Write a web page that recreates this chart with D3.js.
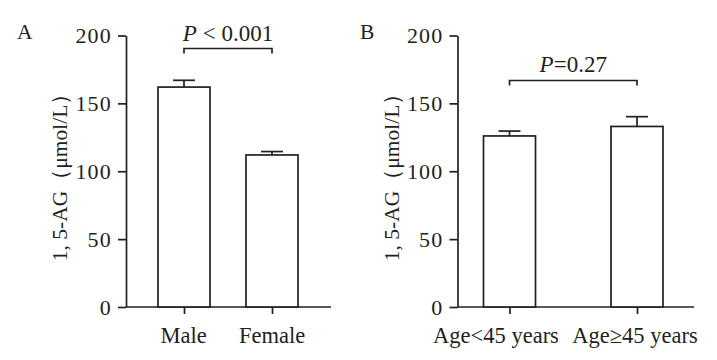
<!DOCTYPE html>
<html><head><meta charset="utf-8">
<script src="https://cdn.jsdelivr.net/npm/d3@7"></script>
<style>
html,body{margin:0;padding:0;background:#fff;}
text{font-family:"Liberation Serif","Times New Roman",serif;fill:#231f20;}
</style></head>
<body><svg id="c" width="717" height="360"></svg>
<script>
const categoriesA = ["Male", "Female"];
const meansA = [162, 112];
const errTopA = [167, 114.5];
const categoriesB = ["Age<45 years", "Age\u226545 years"];
const meansB = [126, 133];
const errTopB = [129.6, 140.2];
const yTicks = [0, 50, 100, 150, 200];
const pLabelsA = ["P", " < 0.001"];
const pLabelsB = ["P", "=0.27"];
const panelLetters = ["A", "B"];
const yTitle = "1, 5-AG\uFF08\u03BCmol/L\uFF09";

const svg = d3.select("#c");
const ink = "#231f20";
const sw = 1.7;
const ff = "'Liberation Serif','Times New Roman',serif";

function panel(cfg) {
  const g = svg.append("g");
  const y = d3.scaleLinear().domain([0, 200]).range([307, 35.5]);
  const x = d3.scalePoint().domain(cfg.cats).range(cfg.centers);
  const bw = 52;
  // y axis
  const ya = g.append("g").attr("transform", `translate(${cfg.x0},0)`)
    .call(d3.axisLeft(y).tickValues(yTicks).tickSize(8).tickSizeOuter(0).tickPadding(6));
  ya.attr("font-family", ff);
  ya.select(".domain").attr("stroke", ink).attr("stroke-width", sw);
  ya.selectAll(".tick line").attr("stroke", ink).attr("stroke-width", sw);
  ya.selectAll(".tick text").attr("font-size", 22).attr("fill", ink)
    .attr("letter-spacing", 1.2).attr("dy", "0.34em");
  // x axis
  const xa = g.append("g").attr("transform", `translate(0,${y(0)})`)
    .call(d3.axisBottom(x).tickSize(7).tickSizeOuter(0).tickPadding(13));
  xa.attr("font-family", ff);
  xa.select(".domain").attr("d", `M${cfg.x0},0H${cfg.x1}`).attr("stroke", ink).attr("stroke-width", sw);
  xa.selectAll(".tick line").attr("stroke", ink).attr("stroke-width", sw);
  xa.selectAll(".tick text").attr("font-size", 22.5).attr("fill", ink)
    .attr("dx", (d, i) => cfg.labelDx[i]);
  // bars
  g.selectAll("rect.bar").data(cfg.cats).enter().append("rect")
    .attr("x", d => x(d) - bw / 2)
    .attr("y", (d, i) => y(cfg.means[i]))
    .attr("width", bw)
    .attr("height", (d, i) => y(0) - y(cfg.means[i]))
    .attr("fill", "#fff").attr("stroke", ink).attr("stroke-width", sw);
  // error bars
  const eg = g.selectAll("g.err").data(cfg.cats).enter().append("g");
  eg.append("line")
    .attr("x1", d => x(d)).attr("x2", d => x(d))
    .attr("y1", (d, i) => y(cfg.means[i])).attr("y2", (d, i) => y(cfg.errs[i]))
    .attr("stroke", ink).attr("stroke-width", sw);
  eg.append("line")
    .attr("x1", d => x(d) - 11).attr("x2", d => x(d) + 11)
    .attr("y1", (d, i) => y(cfg.errs[i])).attr("y2", (d, i) => y(cfg.errs[i]))
    .attr("stroke", ink).attr("stroke-width", sw);
  // bracket
  const xa0 = x(cfg.cats[0]), xb0 = x(cfg.cats[1]);
  g.append("path")
    .attr("d", `M${xa0},${cfg.brY + 5}V${cfg.brY}H${xb0}V${cfg.brY + 5}`)
    .attr("fill", "none").attr("stroke", ink).attr("stroke-width", sw);
  const pt = g.append("text").attr("x", (xa0 + xb0) / 2).attr("y", cfg.pY)
    .attr("text-anchor", "middle").attr("font-size", 23);
  pt.append("tspan").attr("font-style", "italic").text(cfg.p[0]);
  pt.append("tspan").text(cfg.p[1]);
  // panel letter
  g.append("text").attr("x", cfg.lx).attr("y", 38.5).attr("font-size", 21.5).text(cfg.letter);
  // y title
  g.append("text").attr("transform", `translate(${cfg.tx},${172}) rotate(-90)`)
    .attr("text-anchor", "middle").attr("font-size", 21.5).text(yTitle);
}

panel({cats: categoriesA, means: meansA, errs: errTopA, x0: 126, x1: 331,
  centers: [184, 272], brY: 48.5, pY: 41, p: pLabelsA, letter: panelLetters[0],
  lx: 17, tx: 67, labelDx: [-1, -0.5]});
panel({cats: categoriesB, means: meansB, errs: errTopB, x0: 457.5, x1: 694,
  centers: [509.5, 637], brY: 80.5, pY: 72, p: pLabelsB, letter: panelLetters[1],
  lx: 360, tx: 399, labelDx: [-14, -2.5]});
</script></body></html>
